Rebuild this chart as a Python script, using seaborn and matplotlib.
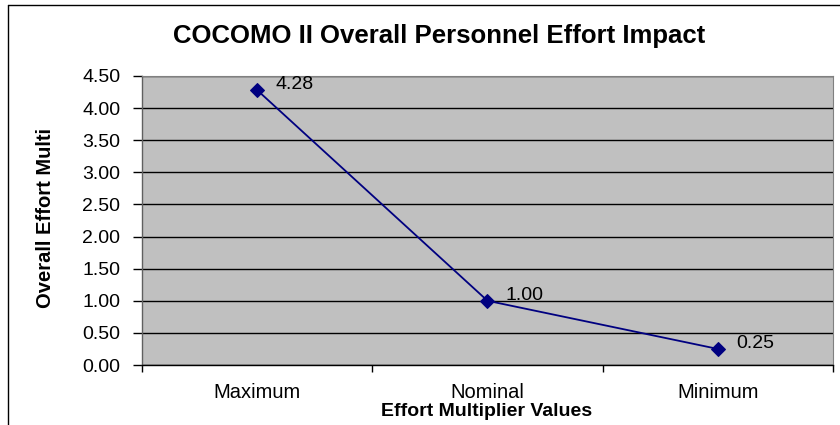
import matplotlib
matplotlib.use("Agg")
import matplotlib.pyplot as plt
from matplotlib.lines import Line2D
import seaborn as sns
import pandas as pd

# --------------------------
# Data
# --------------------------
categories = ["Maximum", "Nominal", "Minimum"]
effort_values = [4.28, 1.00, 0.25]
y_ticks = [0.0, 0.5, 1.0, 1.5, 2.0, 2.5, 3.0, 3.5, 4.0, 4.5]

df = pd.DataFrame({"level": categories, "effort": effort_values})

# --------------------------
# Style
# --------------------------
sns.set_style("white", {"text.color": "black", "xtick.color": "black", "ytick.color": "black"})
plt.rcParams["font.family"] = ["Liberation Sans", "DejaVu Sans"]

fig = plt.figure(figsize=(8.4, 4.25), dpi=100)
ax = fig.add_axes([142 / 840, 60 / 425, 691 / 840, 289 / 425])
ax.set_facecolor("#C0C0C0")

# --------------------------
# Line
# --------------------------
sns.lineplot(
    data=df,
    x="level",
    y="effort",
    sort=False,
    color="#000080",
    marker="D",
    markersize=7,
    markeredgecolor="#000080",
    linewidth=1.3,
    ax=ax,
    zorder=3
)

for i, v in enumerate(effort_values):
    ax.annotate(
        f"{v:.2f}",
        (i, v),
        xytext=(13, 4),
        textcoords="offset points",
        fontsize=14,
        color="black",
        va="center",
        ha="left"
    )

# --------------------------
# Axes
# --------------------------
ax.set_xlim(-0.5, len(categories) - 0.5)
ax.set_ylim(0, 4.5)
ax.set_yticks(y_ticks)
ax.set_yticklabels([f"{t:.2f}" for t in y_ticks])
ax.yaxis.grid(True, color="black", linewidth=1)
ax.set_axisbelow(True)

ax.set_xticks(range(len(categories)))
ax.set_xticklabels(categories)
ax.set_xticks([i - 0.5 for i in range(len(categories) + 1)], minor=True)
ax.tick_params(axis="x", which="major", length=0, pad=13, labelsize=14.5, labelcolor="black")
ax.tick_params(axis="x", which="minor", length=5, width=1, color="black", direction="out")
ax.tick_params(axis="y", length=6.5, width=1, color="black", direction="out", pad=9,
               labelsize=14, labelcolor="black")
ax.yaxis.set_ticks_position("left")
ax.xaxis.set_ticks_position("bottom")

ax.set_xlabel("")
ax.set_ylabel("")

for side in ["top", "right"]:
    ax.spines[side].set_color("#808080")
for side in ["left", "bottom"]:
    ax.spines[side].set_color("black")
    ax.spines[side].set_linewidth(1)
ax.spines["left"].set_color("#606060")

# --------------------------
# Labels
# --------------------------
fig.text(439 / 840, 1 - 36 / 425, "COCOMO II Overall Personnel Effort Impact",
         ha="center", va="center", fontsize=18.5, fontweight="bold", color="black")
fig.text(487 / 840, 1 - 411 / 425, "Effort Multiplier Values",
         ha="center", va="center", fontsize=14, fontweight="bold", color="black")
fig.text(46 / 840, 1 - 218 / 425, "Overall Effort Multi",
         ha="center", va="center", rotation=90, fontsize=14.5, fontweight="bold", color="black")

# outer chart border
fig.add_artist(Line2D([8 / 840, 1], [1 - 5 / 425, 1 - 5 / 425], color="black", linewidth=1))
fig.add_artist(Line2D([8 / 840, 8 / 840], [0, 1 - 5 / 425], color="black", linewidth=1))

plt.savefig("out.png", dpi=100)
